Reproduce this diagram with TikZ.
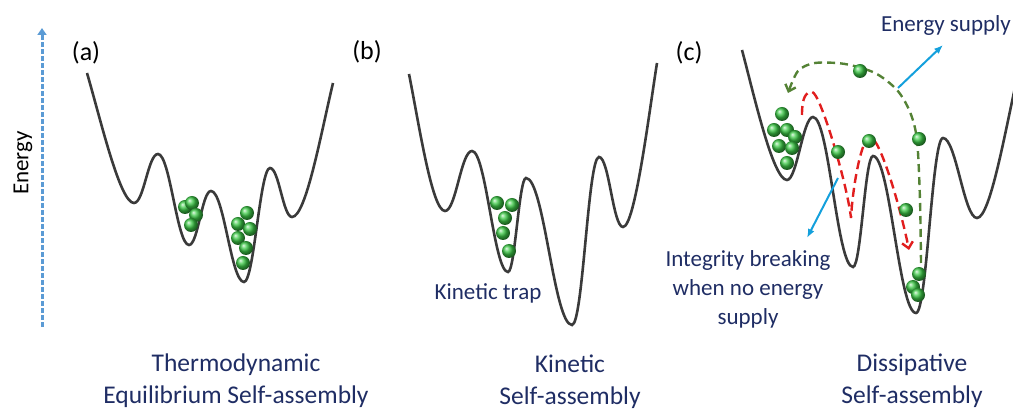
\documentclass[tikz,border=0pt]{standalone}
\usepackage{fontspec}
\setmainfont{Carlito}
\usetikzlibrary{arrows.meta}
\definecolor{navy}{RGB}{31,45,100}
\definecolor{curvegray}{RGB}{58,58,58}
\definecolor{ballgreen}{RGB}{60,200,70}
\definecolor{axisblue}{RGB}{91,155,213}
\definecolor{cyanarrow}{RGB}{20,160,220}
\definecolor{olivegreen}{RGB}{84,130,53}
\definecolor{dashred}{RGB}{225,30,30}
\begin{document}
\begin{tikzpicture}[x=1pt,y=-1pt,
  landscape/.style={draw=curvegray,line width=2.6pt},
  ball/.style={circle,inner sep=0pt,minimum size=14pt,shading=ball,ball color=ballgreen},
  panel/.style={font=\fontsize{26}{30}\selectfont,inner sep=0pt},
  title/.style={font=\fontsize{25.5}{32}\selectfont,text=navy,align=center,inner sep=0pt},
  lbl/.style={font=\fontsize{23}{29}\selectfont,text=navy,align=center,inner sep=0pt},
  pointer/.style={draw=cyanarrow,line width=2pt,-{Latex[length=9pt,width=7pt]}}]
\useasboundingbox (0,0) rectangle (1013,411);

% energy axis
\coordinate (ax0) at (42,327);
\coordinate (ax1) at (42,28);
\draw[axisblue,line width=3pt,dash pattern=on 5pt off 2pt,-{Triangle[length=7pt,width=9pt]}] (ax0) -- (ax1);
\node[rotate=90,font=\fontsize{23}{28}\selectfont,inner sep=0pt] (energy) at (23,163) {Energy};

% (a)
\draw[landscape] (87,73) .. controls +(14,48) and +(-14,0) .. (134,203)
  .. controls +(10,0) and +(-10,0) .. (158,154)
  .. controls +(12,0) and +(-12,0) .. (189,245)
  .. controls +(9,0) and +(-9,0) .. (211,191)
  .. controls +(13,0) and +(-13,0) .. (244,282)
  .. controls +(10,0) and +(-10,0) .. (270,168)
  .. controls +(9,0) and +(-9,0) .. (292,217)
  .. controls +(14,0) and +(-12,50) .. (333,83);
\foreach \x/\y [count=\i] in {185/207,192/203,196/215,191/225,
  247/213,238/224,250/229,238/238,246/248,243/263}
  \node[ball] (a\i) at (\x,\y) {};

% (b)
\draw[landscape] (409,74) .. controls +(10,50) and +(-13,0) .. (445,211)
  .. controls +(11,0) and +(-11,0) .. (472,151)
  .. controls +(14,0) and +(-14,0) .. (508,272)
  .. controls +(7,0) and +(-7,0) .. (526,178)
  .. controls +(18,0) and +(-18,0) .. (572,325)
  .. controls +(11,0) and +(-11,0) .. (599,157)
  .. controls +(10,0) and +(-10,0) .. (623,227)
  .. controls +(12,0) and +(-8,50) .. (657,63);
\foreach \x/\y [count=\i] in {497/203,512/205,505/218,503/233,509/251}
  \node[ball] (b\i) at (\x,\y) {};

% (c)
\draw[landscape] (742,50) .. controls +(12,45) and +(-14,0) .. (787,180)
  .. controls +(10,0) and +(-10,0) .. (813,117)
  .. controls +(16,0) and +(-16,0) .. (853,267)
  .. controls +(8,0) and +(-8,0) .. (873,156)
  .. controls +(17,0) and +(-17,0) .. (916,313)
  .. controls +(11,0) and +(-11,0) .. (943,138)
  .. controls +(13,0) and +(-13,0) .. (977,218)
  .. controls +(14,0) and +(-12,50) .. (1019,70);

\draw[olivegreen,line width=2.4pt,dash pattern=on 8pt off 5pt,-{Straight Barb[length=6pt,width=11pt]}]
  plot[smooth] coordinates {(921,263) (920,200) (917,140) (910,112) (897,90)
  (875,73) (845,64) (815,63) (798,71) (788,93)};
\draw[dashred,line width=2.4pt,dash pattern=on 9pt off 5pt,-{Straight Barb[length=6pt,width=11pt]}]
  (802,115) .. controls +(0,-18) and +(-6,0) .. (812,92)
  .. controls +(8,0) and +(-4,-35) .. (851,218)
  .. controls +(2,-35) and +(-8,0) .. (870,137)
  .. controls +(10,0) and +(-8,-40) .. (909,250);

\foreach \x/\y [count=\i] in {782/114,774/130,787/130,795/137,779/146,792/148,787/163,
  860/71,838/152,869/141,919/139,906/210,919/274,913/287,918/295}
  \node[ball] (c\i) at (\x,\y) {};

\coordinate (es0) at (898,88);
\coordinate (es1) at (943,45);
\coordinate (ib0) at (838,178);
\coordinate (ib1) at (807,238);
\draw[pointer] (es0) -- (es1);
\draw[pointer] (ib0) -- (ib1);

% labels
\node[panel] (pa) at (86,53) {(a)};
\node[panel] (pb) at (367,52) {(b)};
\node[panel] (pc) at (689,53) {(c)};
\node[lbl] (trap) at (488,293) {Kinetic trap};
\node[lbl] (supply) at (946,25) {Energy supply};
\node[lbl] (breaking) at (748,289) {Integrity breaking\\when no energy\\supply};
\node[title] (ta) at (236,381) {Thermodynamic\\Equilibrium Self-assembly};
\node[title] (tb) at (570,382) {Kinetic\\Self-assembly};
\node[title] (tc) at (912,381) {Dissipative\\Self-assembly};
\end{tikzpicture}
\end{document}
